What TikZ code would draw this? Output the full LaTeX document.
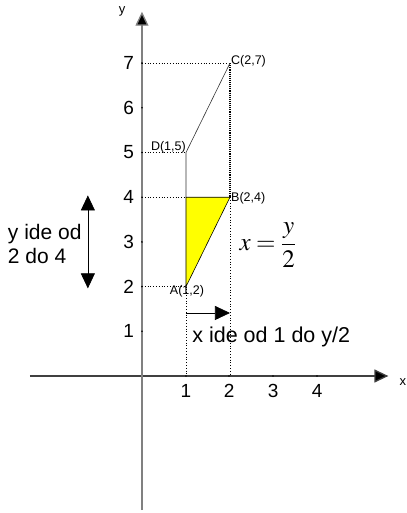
\documentclass[tikz,border=0pt]{standalone}
\usepackage{mathptmx}
\usepackage{fontspec}
\setmainfont{Liberation Sans}
\usetikzlibrary{arrows.meta}
\definecolor{axisGray}{HTML}{808080}
\definecolor{regionYellow}{HTML}{FFFF00}

\begin{document}
\begin{tikzpicture}[x=44pt, y=44.7pt,
    axis/.style={line width=1.3pt, axisGray, -{Triangle[length=14pt,width=13pt,fill=black]}},
    guide/.style={dotted, line width=0.8pt},
    edge/.style={line width=0.6pt},
    ptlabel/.style={font=\fontsize{12.5}{13}\selectfont, inner sep=1pt},
    ticklabel/.style={font=\fontsize{19}{20}\selectfont},
    bigarrow/.style={line width=0.7pt, -{Triangle[length=15pt,width=14pt]}}]
  \useasboundingbox (-3.227,-3.065) rectangle (6.023,8.412);
  % axes
  \coordinate (O) at (0,0);
  \coordinate (xs) at (-2.55,0);
  \coordinate (xe) at (5.6,0);
  \coordinate (ys) at (0,-3.0);
  \coordinate (ye) at (0,8.15);
  \draw[axis, draw=black!75] (xs) -- (xe);
  \draw[axis] (ys) -- (ye);
  \node[font=\fontsize{13}{14}\selectfont] (xlab) at (5.93,-0.14) {x};
  \node[font=\fontsize{13}{14}\selectfont] (ylab) at (-0.45,8.15) {y};
  % ticks
  \foreach \i/\xx in {1/1,2/1.98,3/2.98,4/3.98} {
    \fill (\xx,0) circle (0.9pt);
    \node[ticklabel] (tx\i) at (\xx,-0.33) {\i};
  }
  \foreach \j in {1,...,7} {
    \fill (0,\j) circle (0.9pt);
    \node[ticklabel] (ty\j) at (-0.3,\j) {\j};
  }
  % points
  \coordinate (A) at (1,2);
  \coordinate (B) at (2,4);
  \coordinate (C) at (2,7);
  \coordinate (D) at (1,5);
  \coordinate (E) at (1,4);
  % guides
  \draw[guide] (0,7) -- (C);
  \draw[guide] (0,5) -- (D);
  \draw[guide] (0,4) -- (E);
  \draw[guide] (0,2) -- (A);
  \draw[guide] (A) -- (1,0);
  \draw[guide, line width=1.1pt, densely dotted] (C) -- (B);
  \draw[guide] (B) -- (2,0);
  % region
  \filldraw[fill=regionYellow, edge] (A) -- (E) -- (B) -- cycle;
  \draw[edge, black!80] (E) -- (D) -- (C);
  % point labels
  \node[ptlabel, anchor=west] (Clab) at ([yshift=2pt]C) {C(2,7)};
  \node[ptlabel, anchor=south east] (Dlab) at ([xshift=1pt,yshift=-2pt]D) {D(1,5)};
  \node[ptlabel, anchor=west] (Blab) at ([yshift=-1pt]B) {B(2,4)};
  \node[ptlabel, anchor=north] (Alab) at ([xshift=1pt,yshift=2pt]A) {A(1,2)};
  \node[font=\fontsize{25}{27}\selectfont] (eq) at (2.86,2.93) {$x=\displaystyle\frac{y}{2}$};
  % ranges
  \coordinate (ytop) at (-1.23,4.04);
  \coordinate (ybot) at (-1.23,1.96);
  \draw[bigarrow, {Triangle[length=15pt,width=14pt]}-{Triangle[length=15pt,width=14pt]}] (ybot) -- (ytop);
  \node[font=\fontsize{21}{24}\selectfont, align=left, anchor=west, inner sep=0pt] (yrange) at (-3.05,2.95) {y ide od\\2 do 4};
  \coordinate (xl) at (1,1.41);
  \coordinate (xr) at (2,1.41);
  \draw[bigarrow] (xl) -- (xr);
  \node[font=\fontsize{21.5}{23}\selectfont, anchor=west, inner sep=0pt] (xrange) at (1.14,0.87) {x ide od 1 do y/2};
\end{tikzpicture}
\end{document}
